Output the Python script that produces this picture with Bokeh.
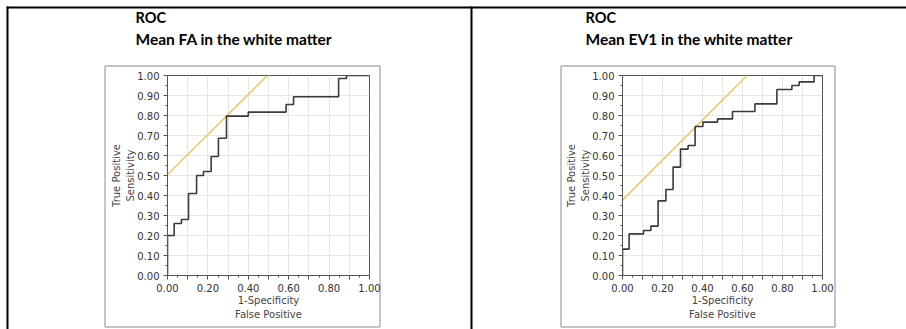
from bokeh.plotting import figure
from bokeh.layouts import row, column
from bokeh.models import Range1d, FixedTicker, GridBox
from bokeh.core.properties import value
from bokeh.embed import file_html
from bokeh.resources import INLINE

# ---- data ----
fa_fpr = [0.0, 0.0, 0.033, 0.069, 0.104, 0.144, 0.178, 0.216, 0.252, 0.292,
          0.40, 0.587, 0.624, 0.847, 0.886, 1.0]
fa_tpr = [0.0, 0.20, 0.26, 0.28, 0.41, 0.50, 0.52, 0.595, 0.686, 0.797,
          0.817, 0.855, 0.894, 0.985, 1.0, 1.0]
fa_tangent_intercept = 0.505

ev_fpr = [0.0, 0.0, 0.033, 0.105, 0.142, 0.178, 0.217, 0.253, 0.29, 0.328,
          0.363, 0.402, 0.475, 0.55, 0.662, 0.772, 0.847, 0.883, 0.958, 1.0]
ev_tpr = [0.0, 0.132, 0.208, 0.225, 0.247, 0.373, 0.43, 0.542, 0.632, 0.65,
          0.745, 0.767, 0.783, 0.82, 0.858, 0.93, 0.95, 0.968, 1.0, 1.0]
ev_tangent_intercept = 0.377

tick_values = [0.0, 0.1, 0.2, 0.3, 0.4, 0.5, 0.6, 0.7, 0.8, 0.9, 1.0]
minor_values = [0.05, 0.15, 0.25, 0.35, 0.45, 0.55, 0.65, 0.75, 0.85, 0.95]
y_tick_labels = ["0.00", "0.10", "0.20", "0.30", "0.40", "0.50",
                 "0.60", "0.70", "0.80", "0.90", "1.00"]
x_tick_labels = ["0.00", "", "0.20", "", "0.40", "", "0.60", "", "0.80", "", "1.00"]

panel_titles = ["ROC", "ROC"]
panel_subtitles = ["Mean FA in the white matter", "Mean EV1 in the white matter"]
x_axis_label = "1-Specificity\nFalse Positive"
y_axis_label = "True Positive\nSensitivity"

CURVE = "#3a3a3a"
TANGENT = "#e3cb66"
AXIS = "#555555"
TEXT = "#333333"
GRID = "#e6e6e6"

W, H = 906, 329

# ---- page background: table rules, chart boxes, titles (pixel canvas) ----
bg = figure(width=W, height=H, output_backend="svg", toolbar_location=None,
            x_range=Range1d(0, W), y_range=Range1d(H, 0),
            x_axis_type=None, y_axis_type=None,
            min_border_left=0, min_border_right=0, min_border_top=0, min_border_bottom=0)
bg.grid.visible = False
bg.outline_line_color = None
bg.background_fill_color = "white"
bg.border_fill_color = "white"
# table rules (top, left, divider)
bg.quad(left=[6, 6, 470], right=[W, 8, 472], top=[6, 6, 6], bottom=[8, H, H],
        fill_color="black", line_color=None)
# grey chart boxes
bg.quad(left=[104.5, 560.5], right=[379.5, 834.5], top=[65.5, 65.5], bottom=[326.5, 326.5],
        fill_color=None, line_color="#8c8c8c", line_width=1)
# titles
bg.text(x=[135, 585], y=[17, 17], text=panel_titles,
        text_font=value("Lato"), text_font_style="bold", text_font_size="14.5px",
        text_color="black", text_baseline="middle", text_align="left")
bg.text(x=[135, 585], y=[38, 38], text=panel_subtitles,
        text_font=value("Lato"), text_font_style="bold", text_font_size="15.5px",
        text_color="black", text_baseline="middle", text_align="left")


def make_panel(fpr, tpr, intercept, width, mbl, mbr, mbt, mbb):
    p = figure(width=width, height=H, output_backend="svg",
               toolbar_location=None,
               x_range=Range1d(0, 1), y_range=Range1d(0, 1),
               min_border_left=mbl, min_border_right=mbr,
               min_border_top=mbt, min_border_bottom=mbb)
    p.background_fill_color = "white"
    p.border_fill_color = None
    p.outline_line_color = AXIS
    p.outline_line_width = 1

    ticker = FixedTicker(ticks=tick_values, minor_ticks=minor_values)
    for ax, labels in ((p.xaxis[0], x_tick_labels), (p.yaxis[0], y_tick_labels)):
        ax.ticker = ticker
        ax.major_label_overrides = {t: l for t, l in zip(tick_values, labels)}
        ax.axis_line_color = AXIS
        ax.major_tick_line_color = AXIS
        ax.minor_tick_line_color = AXIS
        ax.major_tick_out = 4
        ax.major_tick_in = 0
        ax.minor_tick_out = 2
        ax.minor_tick_in = 0
        ax.major_label_text_font = "DejaVu Sans"
        ax.major_label_text_font_size = "10px"
        ax.major_label_text_color = TEXT
        ax.axis_label_text_font = "DejaVu Sans"
        ax.axis_label_text_font_size = "10px"
        ax.axis_label_text_font_style = "normal"
        ax.axis_label_text_color = "#444444"
        ax.axis_label_text_line_height = 1.3
        ax.major_label_standoff = 4
    p.xaxis[0].axis_label = x_axis_label
    p.yaxis[0].axis_label = y_axis_label
    p.xaxis[0].axis_label_standoff = 0
    p.yaxis[0].axis_label_standoff = -2
    p.xgrid.grid_line_color = GRID
    p.ygrid.grid_line_color = GRID
    p.xgrid.ticker = ticker
    p.ygrid.ticker = ticker

    p.line([0, 1 - intercept], [intercept, 1], line_color=TANGENT, line_width=1.5)
    p.step(fpr, tpr, mode="after", line_color=CURVE, line_width=1.6)
    return p


p1 = make_panel(fa_fpr, fa_tpr, fa_tangent_intercept, 471, 167, 102, 74, 54)
p2 = make_panel(ev_fpr, ev_tpr, ev_tangent_intercept, 435, 151, 84, 75, 54)

layout = GridBox(children=[(column(bg, spacing=0), 0, 0), (row(p1, p2, spacing=0), 0, 0)],
                 spacing=0)
open("out.html", "w").write(file_html(layout, INLINE))
